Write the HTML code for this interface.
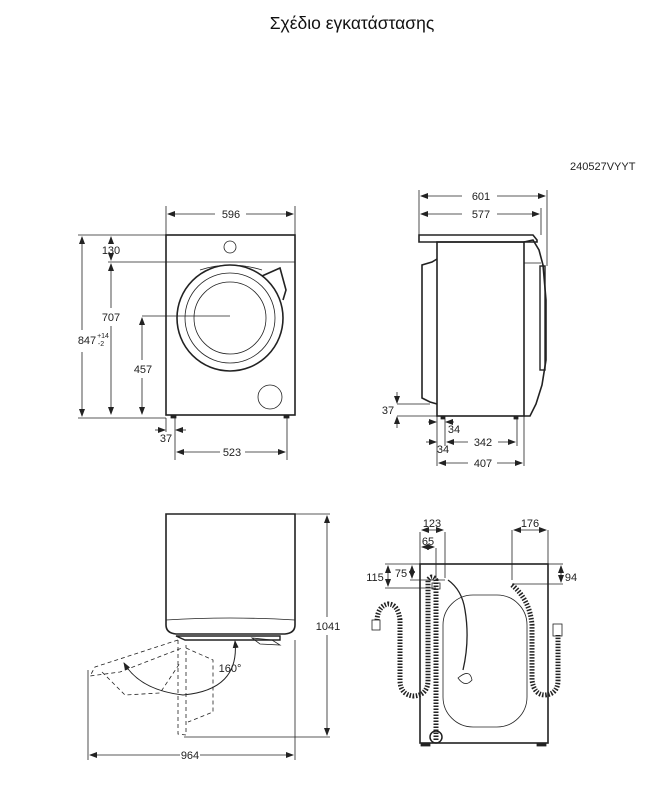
<!DOCTYPE html>
<html><head><meta charset="utf-8"><style>
html,body{margin:0;padding:0;background:#fff;}
svg{display:block;font-family:"Liberation Sans",Arial,sans-serif;}
</style></head><body>
<svg width="661" height="797" viewBox="0 0 661 797" xmlns="http://www.w3.org/2000/svg">
<defs>
<marker id="a" markerWidth="8" markerHeight="6" refX="7" refY="3" orient="auto-start-reverse" markerUnits="userSpaceOnUse"><path d="M0,0 L8,3 L0,6 Z" fill="#222"/></marker>
</defs>
<text x="352" y="29" font-size="17.5" text-anchor="middle" fill="#111">Σχέδιο εγκατάστασης</text>
<text x="570" y="170" font-size="11" fill="#222">240527VYYT</text>

<g stroke="#222" fill="none" stroke-width="0.8" font-size="11">
<rect x="166" y="235" width="129" height="180" stroke-width="1.6"/>
<line x1="166" y1="262" x2="295" y2="262"/>
<circle cx="230" cy="247" r="6"/>
<circle cx="230" cy="318" r="53" stroke-width="1.6"/>
<path d="M262,276 L280,268 L286,290 L283,300" stroke-width="1.6"/>
<path d="M200,270 Q230,260 262,270"/>
<circle cx="230" cy="318" r="45"/>
<circle cx="230" cy="318" r="36"/>
<circle cx="270" cy="397" r="12"/>
<rect x="171" y="415" width="5" height="3" fill="#222"/>
<rect x="284" y="415" width="5" height="3" fill="#222"/>
<line x1="166" y1="206" x2="166" y2="235"/><line x1="295" y1="206" x2="295" y2="235"/>
<line x1="168" y1="214" x2="215" y2="214" marker-start="url(#a)"/><line x1="246" y1="214" x2="293" y2="214" marker-end="url(#a)"/>
<line x1="78" y1="235" x2="166" y2="235"/><line x1="78" y1="418" x2="166" y2="418"/>
<line x1="82" y1="237" x2="82" y2="330" marker-start="url(#a)"/><line x1="82" y1="352" x2="82" y2="416" marker-end="url(#a)"/>
<line x1="108" y1="262" x2="166" y2="262"/>
<line x1="111" y1="237" x2="111" y2="243" marker-start="url(#a)"/><line x1="111" y1="256" x2="111" y2="260" marker-end="url(#a)"/>
<line x1="111" y1="264" x2="111" y2="308" marker-start="url(#a)"/><line x1="111" y1="326" x2="111" y2="414" marker-end="url(#a)"/>
<line x1="142" y1="316" x2="230" y2="316"/>
<line x1="142" y1="318" x2="142" y2="360" marker-start="url(#a)"/><line x1="142" y1="378" x2="142" y2="414" marker-end="url(#a)"/>
<line x1="166" y1="418" x2="166" y2="432"/><line x1="175" y1="418" x2="175" y2="460"/><line x1="287" y1="418" x2="287" y2="460"/>
<line x1="155" y1="430" x2="165" y2="430" marker-end="url(#a)"/><line x1="186" y1="430" x2="176" y2="430" marker-end="url(#a)"/>
<line x1="177" y1="452" x2="220" y2="452" marker-start="url(#a)"/><line x1="245" y1="452" x2="285" y2="452" marker-end="url(#a)"/>
</g>
<g font-size="11" fill="#222" text-anchor="middle">
<text x="231" y="218">596</text><text x="111" y="254">130</text><text x="111" y="321">707</text>
<text x="143" y="373">457</text><text x="87" y="344">847</text><text x="103" y="338" font-size="7">+14</text><text x="101" y="346" font-size="7">-2</text>
<text x="166" y="442">37</text><text x="232" y="456">523</text>
</g>

<g stroke="#222" fill="none" stroke-width="0.8">
<path d="M419,235 L533,235 L537,240 L537,242 L419,242 Z" stroke-width="1.6"/>
<rect x="437" y="242" width="87" height="174" stroke-width="1.6"/>
<path d="M437,259 L432,262 L422,265 L422,398 L430,402 L437,404" stroke-width="1.6"/>
<path d="M524,242 L533,240 L539,250 L543,265 L546,300 L546,360 L542,385 L536,404 L530,416 L524,416" stroke-width="1.6"/>
<line x1="524" y1="263" x2="541" y2="263"/>
<rect x="540" y="266" width="5" height="104" stroke-width="1.4"/>
<rect x="441" y="416" width="4" height="3" fill="#222"/><rect x="514" y="416" width="4" height="3" fill="#222"/>
<line x1="419" y1="190" x2="419" y2="235"/><line x1="547" y1="190" x2="547" y2="266"/><line x1="541" y1="208" x2="541" y2="235"/>
<line x1="421" y1="196" x2="462" y2="196" marker-start="url(#a)"/><line x1="497" y1="196" x2="545" y2="196" marker-end="url(#a)"/>
<line x1="421" y1="214" x2="462" y2="214" marker-start="url(#a)"/><line x1="497" y1="214" x2="539" y2="214" marker-end="url(#a)"/>
<line x1="397" y1="404" x2="430" y2="404"/><line x1="397" y1="416" x2="437" y2="416"/>
<line x1="397" y1="392" x2="397" y2="403" marker-end="url(#a)"/><line x1="397" y1="428" x2="397" y2="417" marker-end="url(#a)"/>
<line x1="437" y1="416" x2="437" y2="466"/><line x1="445" y1="419" x2="445" y2="446"/><line x1="517" y1="419" x2="517" y2="446"/><line x1="524" y1="416" x2="524" y2="466"/>
<line x1="428" y1="422" x2="436" y2="422" marker-end="url(#a)"/><line x1="454" y1="422" x2="446" y2="422" marker-end="url(#a)"/>
<line x1="426" y1="442" x2="436" y2="442" marker-end="url(#a)"/><line x1="447" y1="442" x2="468" y2="442" marker-start="url(#a)"/><line x1="498" y1="442" x2="515" y2="442" marker-end="url(#a)"/>
<line x1="439" y1="463" x2="468" y2="463" marker-start="url(#a)"/><line x1="497" y1="463" x2="522" y2="463" marker-end="url(#a)"/>
</g>
<g font-size="11" fill="#222" text-anchor="middle">
<text x="481" y="200">601</text><text x="481" y="218">577</text><text x="388" y="414">37</text>
<text x="454" y="433">34</text><text x="483" y="446">342</text><text x="443" y="453">34</text><text x="483" y="467">407</text>
</g>

<g stroke="#222" fill="none" stroke-width="0.8">
<path d="M166,514 L295,514 L295,625 Q295,633 285,634 L176,634 Q166,633 166,625 Z" stroke-width="1.6"/>
<path d="M166,620 Q230,616 295,620"/>
<path d="M176,636 L280,636 L280,640 L185,640 Z" stroke-width="1.4"/>
<path d="M252,638 L272,640 L280,645 L260,644 Z"/>
<line x1="295" y1="514" x2="330" y2="514"/><line x1="184" y1="737" x2="330" y2="737"/>
<line x1="327" y1="516" x2="327" y2="617" marker-start="url(#a)"/><line x1="327" y1="635" x2="327" y2="735" marker-end="url(#a)"/>
<line x1="88" y1="670" x2="88" y2="760"/><line x1="295" y1="640" x2="295" y2="760"/>
<line x1="90" y1="755" x2="180" y2="755" marker-start="url(#a)"/><line x1="200" y1="755" x2="293" y2="755" marker-end="url(#a)"/>
<g stroke-dasharray="4,3">
<path d="M178,640 L95,667 L90,676 L120,672 L182,648"/>
<path d="M102,672 L125,695 L160,693 L180,663"/>
<path d="M178,640 L178,734 L186,735 L186,645"/>
<path d="M186,648 L213,660 L213,712 L188,722"/>
</g>
<path d="M235,641 Q240,690 183,695 Q140,690 124,663" stroke-width="1" marker-start="url(#a)" marker-end="url(#a)"/>
</g>
<text x="230" y="672" font-size="11" text-anchor="middle" fill="#222">160°</text>
<text x="328" y="630" font-size="11" text-anchor="middle" fill="#222">1041</text>
<text x="190" y="759" font-size="11" text-anchor="middle" fill="#222">964</text>

<g stroke="#222" fill="none" stroke-width="0.8">
<rect x="420" y="564" width="128" height="179" stroke-width="1.6"/>
<rect x="443" y="595" width="84" height="132" rx="30"/>
<rect x="421" y="743" width="9" height="3" fill="#222"/><rect x="537" y="743" width="9" height="3" fill="#222"/>
<line x1="420" y1="532" x2="420" y2="564"/><line x1="445" y1="532" x2="445" y2="578"/><line x1="436" y1="548" x2="436" y2="580"/>
<line x1="422" y1="530" x2="443" y2="530" marker-start="url(#a)" marker-end="url(#a)"/>
<line x1="422" y1="547" x2="434" y2="547" marker-start="url(#a)" marker-end="url(#a)"/>
<line x1="512" y1="530" x2="512" y2="580"/><line x1="548" y1="530" x2="548" y2="564"/>
<line x1="514" y1="530" x2="546" y2="530" marker-start="url(#a)" marker-end="url(#a)"/>
<line x1="385" y1="564" x2="420" y2="564"/><line x1="385" y1="588" x2="436" y2="588"/><line x1="410" y1="580" x2="445" y2="580"/>
<line x1="388" y1="566" x2="388" y2="586" marker-start="url(#a)" marker-end="url(#a)"/>
<line x1="412" y1="566" x2="412" y2="578" marker-start="url(#a)" marker-end="url(#a)"/>
<line x1="512" y1="584" x2="563" y2="584"/><line x1="548" y1="564" x2="563" y2="564"/>
<line x1="561" y1="566" x2="561" y2="582" marker-start="url(#a)" marker-end="url(#a)"/>
<path d="M448,580 Q462,590 465,610 Q470,640 463,670" stroke-width="1.3"/>
<path d="M458,678 Q470,668 472,680 Q465,688 458,678 Z"/>
<g stroke-width="5" stroke-dasharray="1.5,1.5">
<path d="M436,740 L436,580 Q432,574 428,580 L428,680 Q428,695 414,696 Q400,695 400,680 L400,620 Q398,604 388,604 Q378,606 377,620"/>
<path d="M512,585 Q530,600 532,625 L532,680 Q534,695 545,695 Q558,694 558,680 L558,635"/>
</g>
<circle cx="436" cy="737" r="6" stroke-width="1.5"/>
<rect x="372" y="620" width="8" height="10"/>
<rect x="553" y="624" width="9" height="12"/>
<rect x="432" y="583" width="8" height="6"/>
</g>
<g font-size="11" fill="#222" text-anchor="middle">
<text x="432" y="527">123</text><text x="428" y="545">65</text><text x="375" y="581">115</text>
<text x="401" y="577">75</text><text x="530" y="527">176</text><text x="571" y="581">94</text>
</g>
</svg>
</body></html>
